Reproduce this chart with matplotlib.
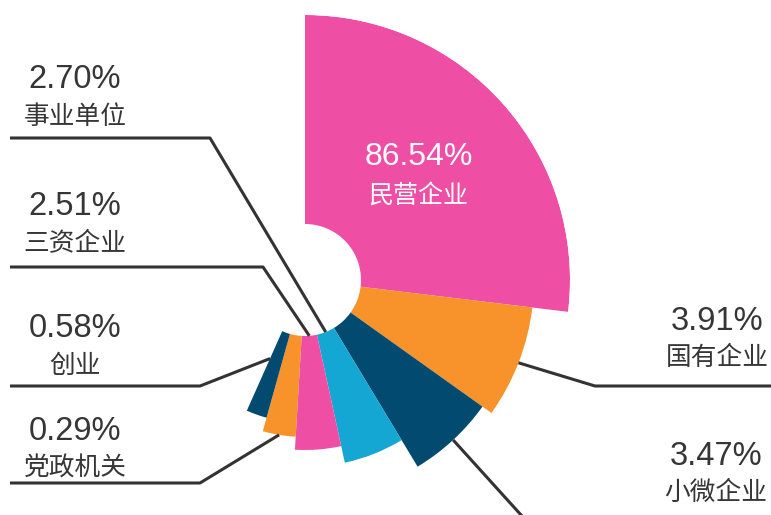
import matplotlib
matplotlib.use("Agg")
import numpy as np
import matplotlib.pyplot as plt
from matplotlib import font_manager

# datos del gráfico
categories = ["民营企业", "国有企业", "小微企业", "事业单位", "三资企业", "创业", "党政机关"]
shares = [86.54, 3.91, 3.47, 2.70, 2.51, 0.58, 0.29]

# forma de la rosa (diseño, no proporcional a los valores)
sweep_deg = [96.9, 28.6, 23.4, 18.8, 15.7, 12.2, 8.4]
outer_px = [265, 229, 218, 187, 170, 157, 143]
inner_px = 56
colors = ["#EE4FA5", "#F8922B", "#034A71", "#14A7D3", "#EE4FA5", "#F8922B", "#034A71"]

W, H = 771, 515
cx, cy = 305, 280

installed = {f.name for f in font_manager.fontManager.ttflist}
if "Liberation Sans Narrow" in installed:
    num_font, num_size = "Liberation Sans Narrow", 26
else:
    num_font, num_size = "Liberation Sans", 23.5
cjk = "Noto Sans CJK SC"
txt_color = "#363636"
line_color = "#333333"

fig = plt.figure(figsize=(W / 100, H / 100), dpi=100)

R = outer_px[0]
ax = fig.add_axes([(cx - R) / W, (H - cy - R) / H, 2 * R / W, 2 * R / H],
                  projection="polar")
ax.set_theta_zero_location("N")
ax.set_theta_direction(-1)

sweep = np.array(sweep_deg)
starts = np.concatenate([[0], np.cumsum(sweep)[:-1]])
mids = starts + sweep / 2
ax.bar(np.radians(mids), np.array(outer_px) - inner_px, width=np.radians(sweep),
       bottom=inner_px, color=colors, linewidth=0)
ax.set_ylim(0, R)
ax.axis("off")

# capa superior en píxeles para etiquetas y líneas guía
ov = fig.add_axes([0, 0, 1, 1])
ov.set_xlim(0, W)
ov.set_ylim(H, 0)
ov.axis("off")
ov.patch.set_alpha(0)


def to_px(theta_deg, r):
    disp = ax.transData.transform((np.radians(theta_deg), r))
    return ov.transData.inverted().transform(disp)


# (índice, lado, x texto, base número, base texto, y línea, x codo, segmento, ángulo, radio)
labels = [
    (1, "right", 717, 330, 365, 386, 595, 1, "mid", "outer"),
    (2, "right", 716, 465, 500, 526, 531, 2, "mid", "outer"),
    (3, "left", 75, 88, 124, 138, 210, 3, "mid", "inner"),
    (4, "left", 75, 215, 251, 267, 263, 4, "mid", "inner"),
    (5, "left", 75, 337, 373, 386, 200, 6, "end", 86),
    (6, "left", 75, 440, 476, 483, 200, 5, "mid", "outer"),
]

for i, side, tx, yn, yc, yl, xe, seg, where, rad in labels:
    ang = mids[seg] if where == "mid" else starts[seg] + sweep[seg]
    if rad == "outer":
        r = outer_px[seg]
    elif rad == "inner":
        r = inner_px
    else:
        r = rad
    axp, ayp = to_px(ang, r)
    if side == "left":
        xs = [10, xe, axp]
    else:
        xs = [W + 5, xe, axp]
    ov.plot(xs, [yl, yl, ayp], color=line_color, lw=2.2, solid_capstyle="butt")
    ov.text(tx, yn, f"{shares[i]:.2f}%", ha="center", va="baseline",
            fontsize=num_size, family=[num_font, "DejaVu Sans"], color=txt_color)
    ov.text(tx, yc, categories[i], ha="center", va="baseline",
            fontsize=18.5, family=[cjk, "DejaVu Sans"], weight="medium",
            color=txt_color)

# etiqueta central del sector principal
ov.text(419, 165, f"{shares[0]:.2f}%", ha="center", va="baseline",
        fontsize=23, family=["Liberation Sans", "DejaVu Sans"], color="white")
ov.text(418, 203, categories[0], ha="center", va="baseline",
        fontsize=18, family=[cjk, "DejaVu Sans"], weight="medium", color="white")

fig.savefig("out.png", dpi=100)
